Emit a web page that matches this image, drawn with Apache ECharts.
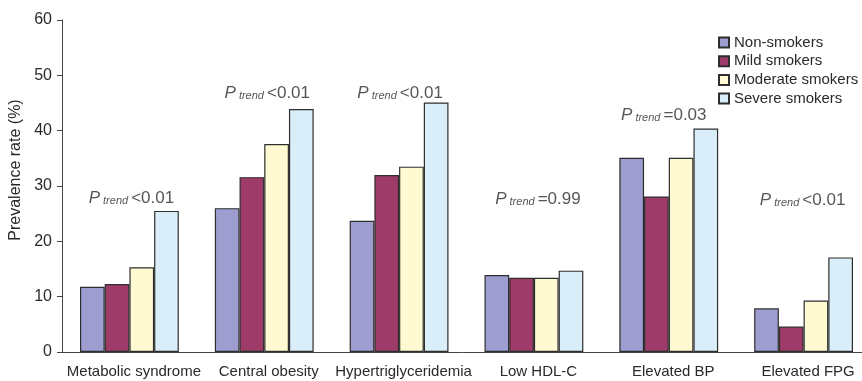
<!DOCTYPE html>
<html><head><meta charset="utf-8">
<script src="https://cdn.jsdelivr.net/npm/echarts@6/dist/echarts.min.js"></script>
<style>html,body{margin:0;padding:0;background:#fff}#c{width:862px;height:381px}</style>
</head><body><div id="c"></div>
<script>
const categories = ['Metabolic syndrome','Central obesity','Hypertriglyceridemia','Low HDL-C','Elevated BP','Elevated FPG'];
const seriesNames = ['Non-smokers','Mild smokers','Moderate smokers','Severe smokers'];
const nonSmokers = [11.8, 26.0, 23.7, 13.9, 35.1, 7.9];
const mildSmokers = [12.3, 31.6, 32.0, 13.4, 28.1, 4.6];
const moderateSmokers = [15.3, 37.6, 33.5, 13.4, 35.1, 9.3];
const severeSmokers = [25.5, 43.9, 45.1, 14.7, 40.4, 17.1];
const pTrendText = ['<0.01','<0.01','<0.01','=0.99','=0.03','<0.01'];
const pTrendY = [27.8, 46.8, 46.8, 27.6, 42.8, 27.5];
const yTicks = [0, 10, 20, 30, 40, 50, 60];

// label nudges (style only)
const pTrendDx = [2, 3, 1, 4, -5, -1];

const colors = ['#9d9dd0','#9e3b68','#fffad2','#d9eef8'];
const font = 'Liberation Sans, Arial, sans-serif';
const values = [nonSmokers, mildSmokers, moderateSmokers, severeSmokers];

const barSeries = seriesNames.map((n, i) => ({
  name: n, type: 'bar', data: values[i], barGap: '0%', barCategoryGap: '26.7%',
  itemStyle: { color: colors[i], borderColor: '#2e2e2e', borderWidth: 1.2 },
  emphasis: { disabled: true }
}));

const annSeries = {
  type: 'scatter', symbolSize: 0, silent: true,
  data: pTrendText.map((t, i) => ({
    value: [i, pTrendY[i]], txt: t,
    label: { offset: [pTrendDx[i], 0] }
  })),
  label: {
    show: true, position: 'inside',
    formatter: p => '{p|P}{t| trend }{v|' + p.data.txt + '}',
    rich: {
      p: { fontFamily: font, fontStyle: 'italic', fontSize: 17, color: '#2a2a2a' },
      t: { fontFamily: font, fontStyle: 'italic', fontSize: 11, color: '#2a2a2a', verticalAlign: 'bottom', padding: [3, 0, 0, 0] },
      v: { fontFamily: font, fontSize: 17, color: '#2a2a2a' }
    }
  }
};

const chart = echarts.init(document.getElementById('c'));
chart.setOption({
  animation: false,
  backgroundColor: '#fff',
  grid: { left: 62, width: 809, top: 20, bottom: 29, containLabel: false, outerBoundsMode: 'none' },
  legend: {
    data: seriesNames, orient: 'vertical', left: 718, top: 35, padding: 0,
    itemWidth: 10, itemHeight: 10, itemGap: 3.7, icon: 'rect',
    textStyle: { fontFamily: font, fontSize: 15, color: '#2a2a2a' }
  },
  xAxis: {
    type: 'category', data: categories,
    axisLine: { lineStyle: { color: '#444', width: 1 } },
    axisTick: { inside: true, length: 4, lineStyle: { color: '#444' } },
    axisLabel: { fontFamily: font, fontSize: 15, color: '#2a2a2a', margin: 12, interval: 0, padding: [0, 0, 0, 9] }
  },
  yAxis: {
    type: 'value', min: yTicks[0], max: yTicks[yTicks.length - 1], interval: 10,
    name: 'Prevalence rate (%)', nameLocation: 'middle', nameGap: 37,
    nameTextStyle: { fontFamily: font, fontSize: 16, color: '#2a2a2a', padding: [0, 0, 0, 32] },
    axisLine: { show: true, lineStyle: { color: '#444', width: 1 } },
    axisTick: { show: true, length: 5, lineStyle: { color: '#444' } },
    splitLine: { show: false },
    axisLabel: { fontFamily: font, fontSize: 16, color: '#2a2a2a', margin: 10 }
  },
  series: [...barSeries, annSeries]
});
</script></body></html>
